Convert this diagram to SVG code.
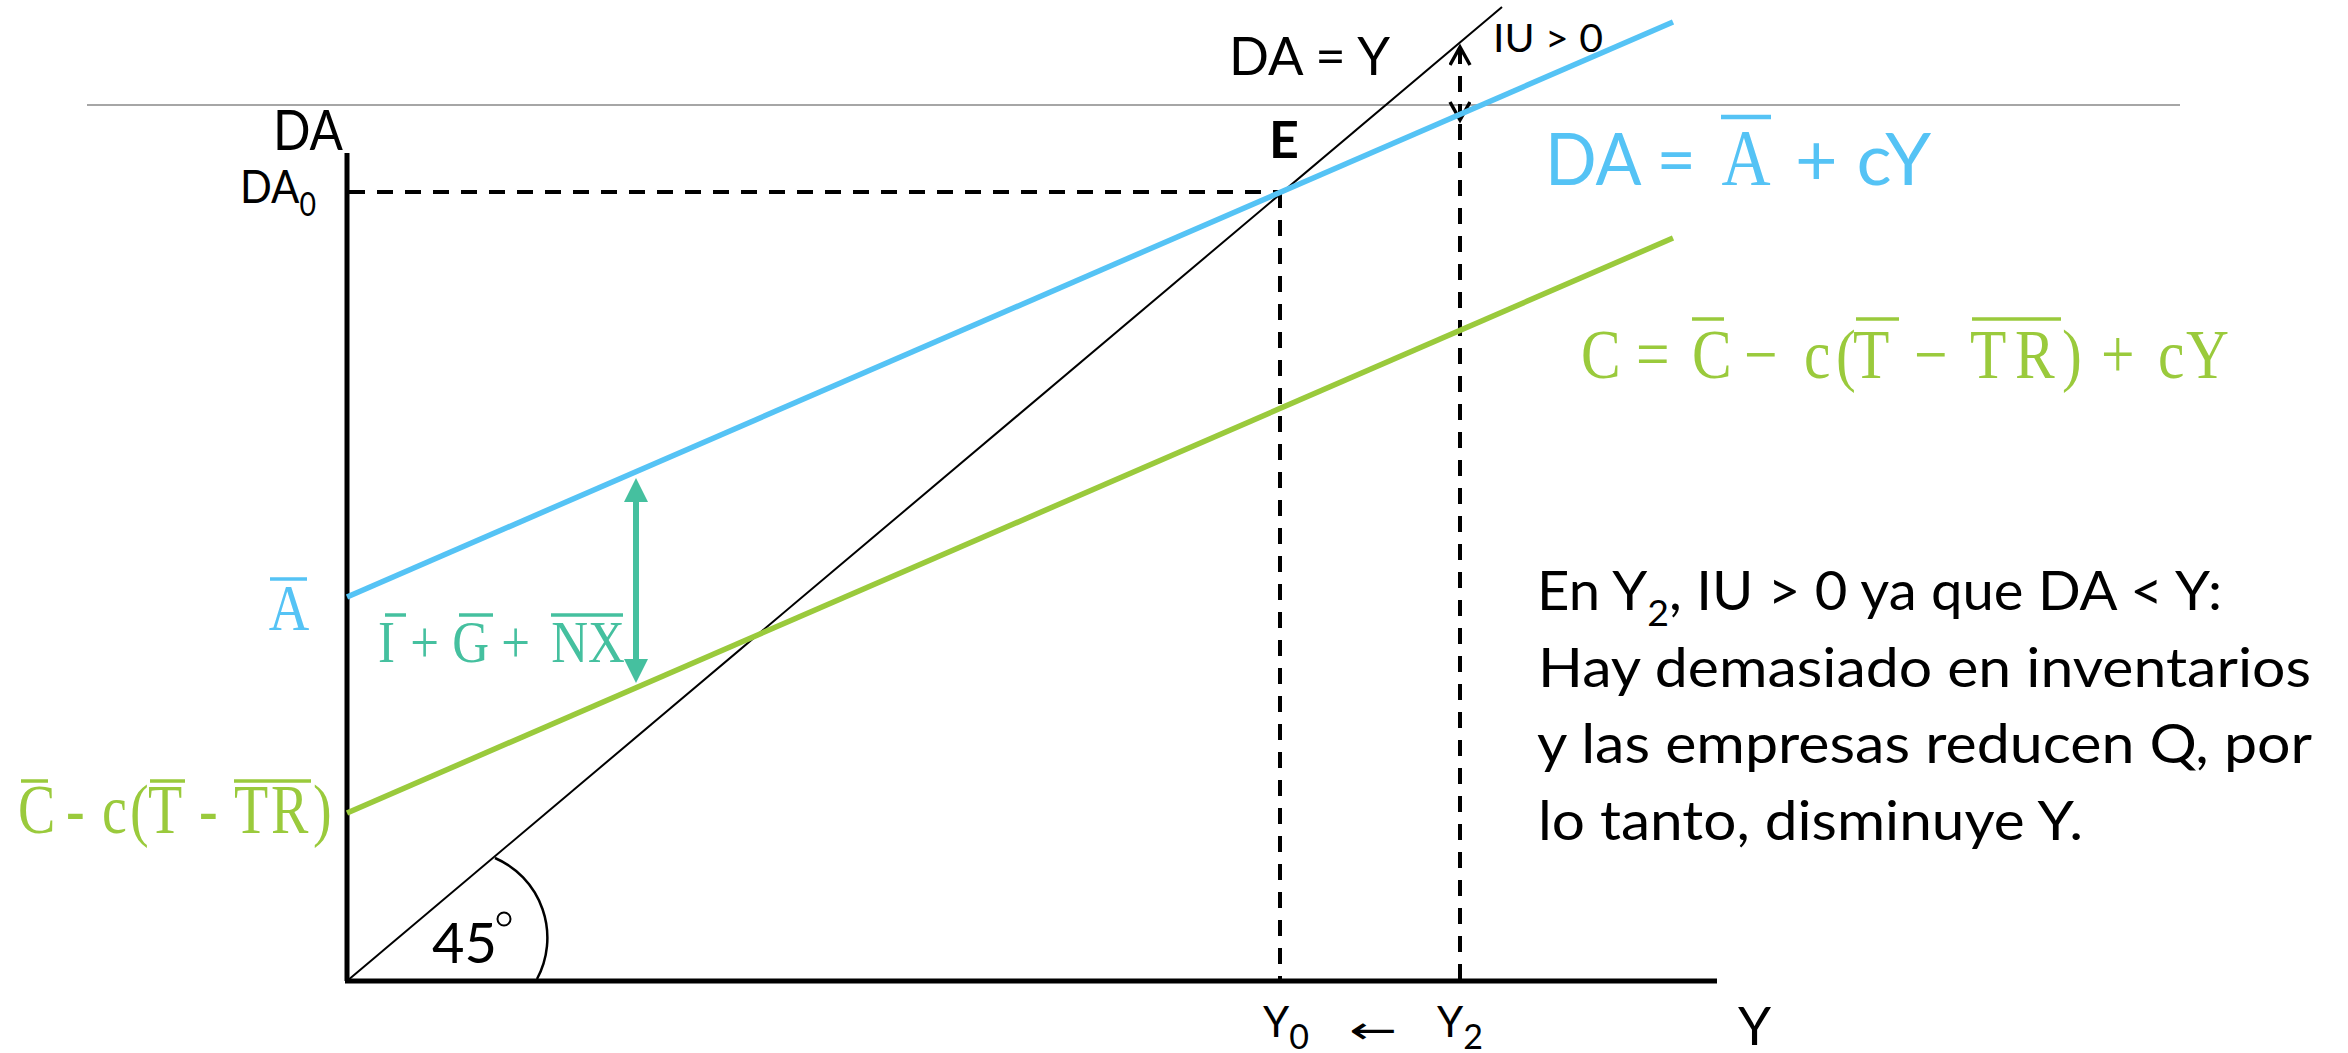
<svg xmlns="http://www.w3.org/2000/svg" width="2348" height="1053" viewBox="0 0 2348 1053">
<style>
.sans{font-family:Lato,"Liberation Sans",sans-serif;fill:#000}
.serif{font-family:"Liberation Serif","DejaVu Serif",serif}
.blue{fill:#55C3F5}
.green{fill:#9ACA3C}
.teal{fill:#45C09F}
.axis{stroke:#000;stroke-width:5;fill:none}
.dash{stroke:#000;stroke-width:4;stroke-dasharray:16 12;fill:none}
.bar{stroke-width:3.5}
</style>
<defs>
<marker id="tealHead" markerUnits="userSpaceOnUse" markerWidth="26" markerHeight="26" refX="12" refY="12" orient="auto-start-reverse" viewBox="0 0 26 26">
<path d="M0,0 L24,12 L0,24 Z" fill="#45C09F"/>
</marker>
<marker id="chev" markerUnits="userSpaceOnUse" markerWidth="24" markerHeight="24" refX="19" refY="11" orient="auto-start-reverse" viewBox="0 0 24 24">
<path d="M1,1 L19,11 L1,21" fill="none" stroke="#000" stroke-width="3.5" stroke-dasharray="none"/>
</marker>
</defs>
<rect width="2348" height="1053" fill="#fff"/>

<line x1="87" y1="105" x2="2180" y2="105" stroke="#a6a6a6" stroke-width="2"/>

<g id="axes">
<line class="axis" x1="347" y1="153" x2="347" y2="981"/>
<line class="axis" x1="345" y1="981" x2="1717" y2="981"/>
<text class="sans" x="273" y="150" font-size="56" textLength="70" lengthAdjust="spacingAndGlyphs">DA</text>
<text class="sans" x="1738" y="1045" font-size="53">Y</text>
</g>

<g id="connectors">
<line class="dash" x1="349" y1="192" x2="1280" y2="192"/>
<line class="dash" x1="1280" y1="192" x2="1280" y2="981"/>
<line class="dash" x1="1460" y1="124" x2="1460" y2="981"/>
<line x1="1460" y1="120" x2="1460" y2="47" stroke="#000" stroke-width="4" stroke-dasharray="16 12" marker-start="url(#chev)" marker-end="url(#chev)"/>
<line x1="347" y1="981" x2="1502" y2="7" stroke="#000" stroke-width="2"/>
<line x1="347" y1="597" x2="1673" y2="22" stroke="#55C3F5" stroke-width="5.5"/>
<line x1="347" y1="813" x2="1673" y2="238" stroke="#9ACA3C" stroke-width="5.5"/>
<line x1="636" y1="490" x2="636" y2="671" stroke="#45C09F" stroke-width="6" marker-start="url(#tealHead)" marker-end="url(#tealHead)"/>
<path d="M495,858 A87,87 0 0 1 537,979" fill="none" stroke="#000" stroke-width="2.5"/>
</g>

<g id="label-DA0">
<text class="sans" x="240" y="203" font-size="47" textLength="76" lengthAdjust="spacingAndGlyphs">DA<tspan font-size="32" dy="13">0</tspan></text>
</g>

<g id="label-E">
<text class="sans" x="1269" y="158" font-size="52" font-weight="bold">E</text>
</g>

<g id="label-DAY">
<text class="sans" x="1229" y="75" font-size="53" textLength="161" lengthAdjust="spacingAndGlyphs">DA = Y</text>
</g>

<g id="label-IU">
<text class="sans" x="1493" y="52" font-size="38" textLength="110" lengthAdjust="spacingAndGlyphs">IU &gt; 0</text>
</g>

<g id="label-DA-eq">
<text class="sans blue" x="1545" y="185" font-size="72" textLength="151" lengthAdjust="spacingAndGlyphs">DA =</text>
<text class="serif blue" transform="scale(0.85,1)" x="2054.12" y="185" font-size="80" text-anchor="middle">A</text>
<line x1="1721" y1="117" x2="1771" y2="117" stroke="#55C3F5" stroke-width="4.5"/>
<text class="sans blue" x="1795" y="185" font-size="72" textLength="136" lengthAdjust="spacingAndGlyphs">+ cY</text>
</g>

<g id="label-C-eq">
<text class="serif green" transform="scale(0.85,1)" y="378" font-size="70" x="1860 1905.88 1924.71 1967.06 1990.59 2035.29 2051.76 2105.88 2122.35 2160 2180 2235.29 2251.76 2301.18 2317.65 2370.59 2425.88 2452.94 2471.76 2517.65 2538.82 2571.76">C = C − c(T − TR) + cY</text>
<g stroke="#9ACA3C" class="bar">
<line x1="1692" y1="319" x2="1724" y2="319"/>
<line x1="1856" y1="319" x2="1899" y2="319"/>
<line x1="1972" y1="319" x2="2061" y2="319"/>
</g>
</g>

<g id="label-Abar">
<text class="serif blue" transform="scale(0.85,1)" x="340" y="630" font-size="66" text-anchor="middle">A</text>
<line x1="270" y1="579" x2="307" y2="579" stroke="#55C3F5" class="bar"/>
</g>

<g id="label-C0">
<text class="serif green" transform="scale(0.8,1)" y="833" font-size="70" x="22.5 68.75 82.5 112.5 127.5 162.5 185 237.5 248.75 281.25 292.5 338.75 391.25">C - c(T - TR)</text>
<g stroke="#9ACA3C" class="bar">
<line x1="21" y1="781" x2="48" y2="781"/>
<line x1="150" y1="781" x2="185" y2="781"/>
<line x1="234" y1="781" x2="311" y2="781"/>
</g>
</g>

<g id="label-IGNX">
<text class="serif teal" transform="scale(0.85,1)" y="662" font-size="60" text-anchor="middle"><tspan x="462.35">I</tspan> <tspan x="507.06">+</tspan> <tspan x="561.18">G</tspan> <tspan x="614.12">+</tspan> <tspan x="691.76">NX</tspan></text>
<g stroke="#45C09F" class="bar">
<line x1="385" y1="615" x2="406" y2="615"/>
<line x1="459" y1="615" x2="493" y2="615"/>
<line x1="551" y1="615" x2="623" y2="615"/>
</g>
</g>

<g id="label-45">
<text class="sans" x="432" y="963" font-size="56">45</text>
<circle cx="504" cy="919" r="6.5" fill="none" stroke="#000" stroke-width="2"/>
</g>

<g id="label-Y0">
<text class="sans" x="1263" y="1037" font-size="42">Y<tspan font-size="34" dy="12">0</tspan></text>
</g>
<g id="label-arrow">
<text x="1349" y="1043" font-size="38" textLength="48" lengthAdjust="spacingAndGlyphs" font-family="'DejaVu Sans',sans-serif">←</text>
</g>
<g id="label-Y2">
<text class="sans" x="1437" y="1037" font-size="42">Y<tspan font-size="34" dy="12">2</tspan></text>
</g>

<g id="note">
<text class="sans" x="1537" y="610" font-size="54" textLength="685" lengthAdjust="spacingAndGlyphs">En Y<tspan font-size="36" dy="16">2</tspan><tspan dy="-16">, IU &gt; 0 ya que DA &lt; Y:</tspan></text>
<text class="sans" x="1538" y="687" font-size="54" textLength="773" lengthAdjust="spacingAndGlyphs">Hay demasiado en inventarios</text>
<text class="sans" x="1537" y="763" font-size="54" textLength="775" lengthAdjust="spacingAndGlyphs">y las empresas reducen Q, por</text>
<text class="sans" x="1538" y="840" font-size="54" textLength="545" lengthAdjust="spacingAndGlyphs">lo tanto, disminuye Y.</text>
</g>
</svg>
